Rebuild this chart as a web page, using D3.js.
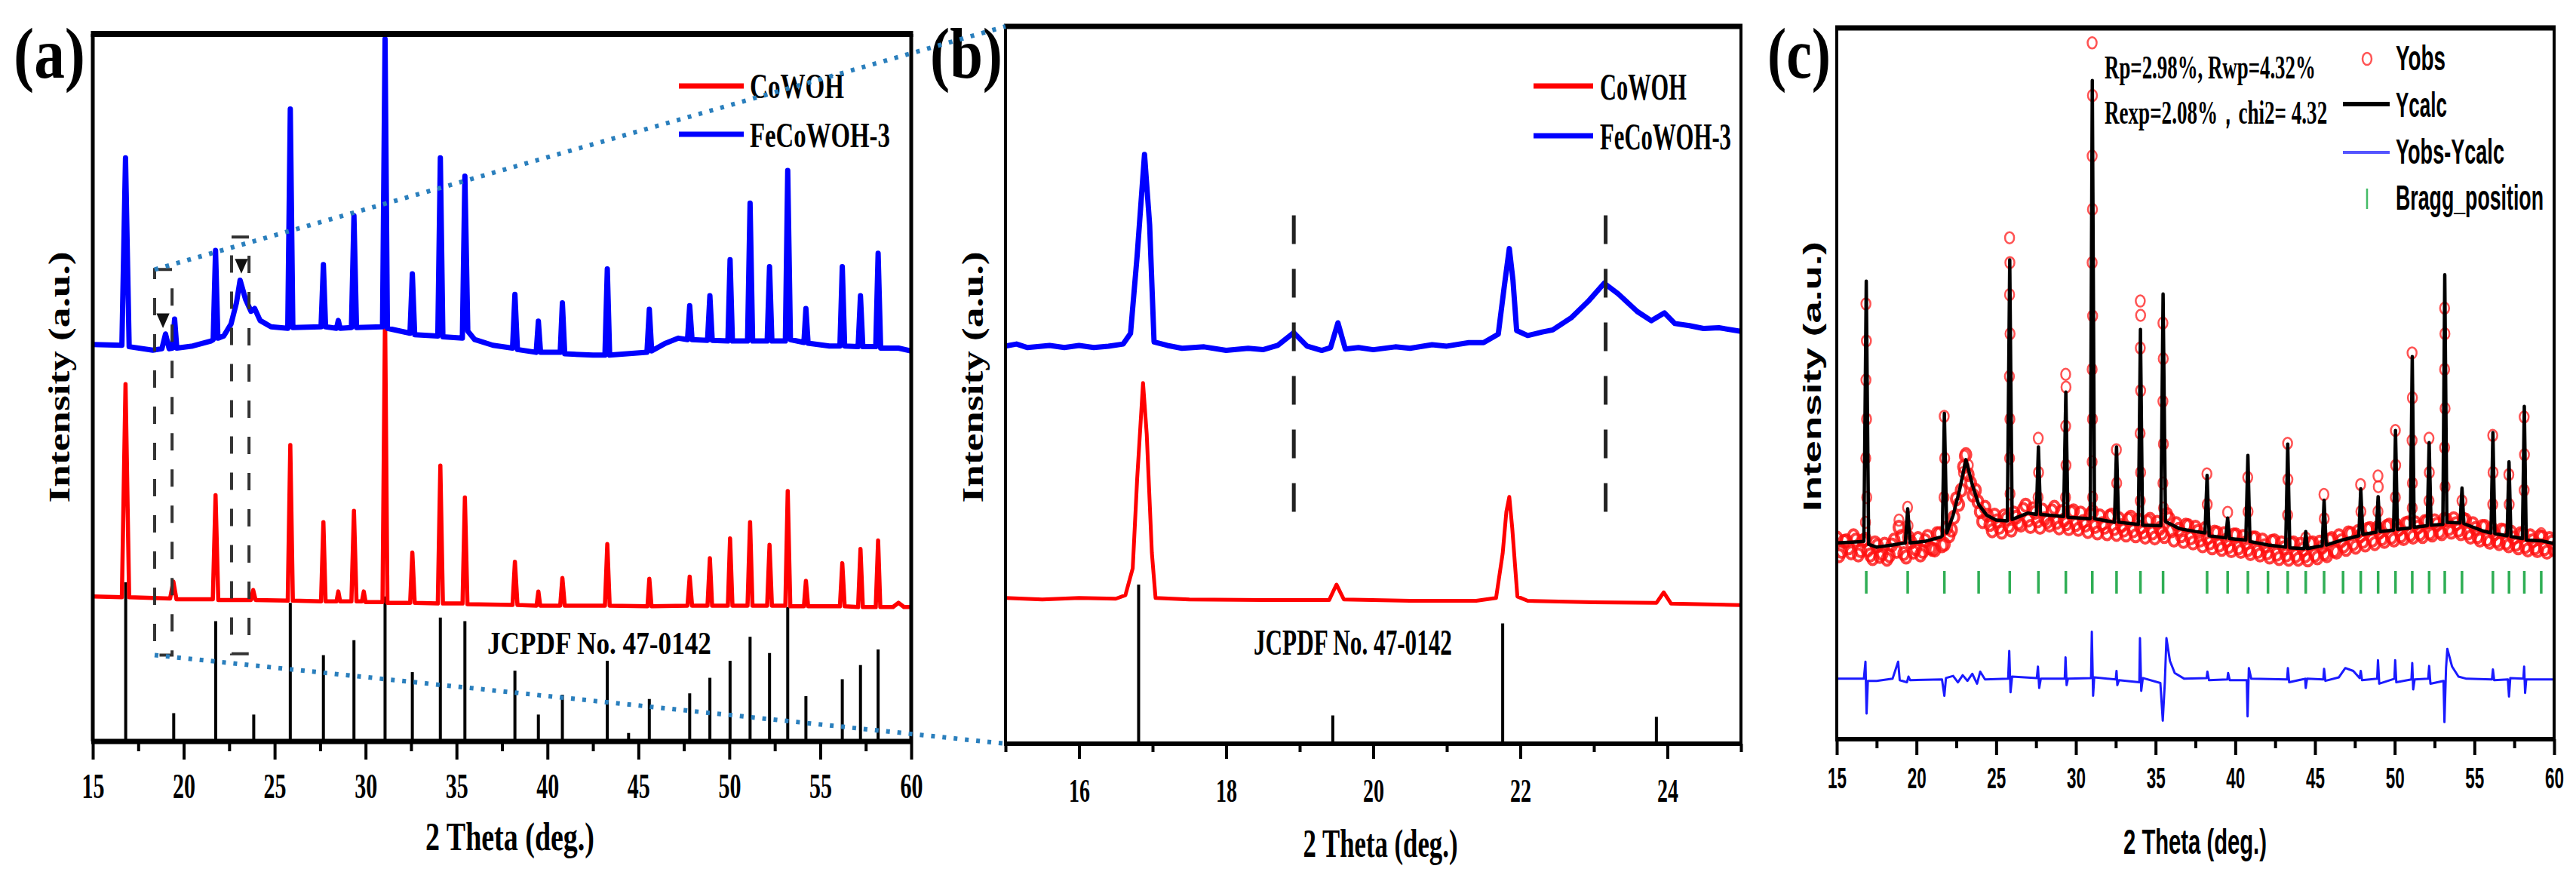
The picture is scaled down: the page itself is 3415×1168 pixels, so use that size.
<!DOCTYPE html>
<html>
<head>
<meta charset="utf-8">
<script src="https://cdn.jsdelivr.net/npm/d3@7"></script>
<style>
  body { margin: 0; background: #fff; }
  svg { display: block; }
</style>
</head>
<body>
<svg id="fig" width="3415" height="1168"></svg>
<script>
// ---- data (2 theta in deg, intensity in a.u.) ----

// JCPDF No. 47-0142 reference lines [2theta, height]
const jcpdf = [[16.81,22.5],[19.45,4.0],[21.76,17.0],[23.85,3.8],[25.86,19.6],[27.68,12.2],[29.36,14.3],
  [31.07,20.5],[32.57,9.8],[34.11,17.5],[35.46,17.0],[38.21,10.0],[39.5,3.8],[40.82,6.6],[43.29,11.4],
  [44.46,1.2],[45.6,6.0],[47.82,6.8],[48.93,9.0],[50.04,11.4],[51.14,14.8],[52.21,12.5],[53.21,19.0],
  [54.21,6.4],[56.21,8.8],[57.21,10.8],[58.18,13.0]];

// panel (a) CoWOH
const coWOH = [[15,20.5],[16.6,20.4],[16.8,50.5],[17.0,20.4],[19.25,20.2],[19.43,22.6],[19.6,20.1],[21.6,20.1],
  [21.75,34.8],[21.9,20.0],[23.7,20.0],[23.82,21.4],[23.95,20.0],[25.72,19.9],[25.86,41.9],[26.0,19.9],
  [27.55,19.8],[27.68,31.0],[27.8,19.8],[28.4,19.8],[28.5,21.2],[28.6,19.8],[29.22,19.8],[29.36,32.6],
  [29.5,19.8],[29.8,19.8],[29.9,21.2],[30.0,19.7],[30.93,19.7],[31.07,60.8],[31.2,19.6],[32.45,19.6],
  [32.57,26.7],[32.7,19.6],[33.97,19.5],[34.11,39.0],[34.25,19.5],[35.33,19.5],[35.46,34.5],[35.6,19.4],
  [38.08,19.3],[38.21,25.4],[38.35,19.3],[39.4,19.2],[39.5,21.2],[39.6,19.2],[40.7,19.2],[40.82,23.1],
  [40.95,19.2],[43.16,19.2],[43.29,27.9],[43.42,19.2],[45.5,19.1],[45.6,23.0],[45.72,19.1],[47.7,19.2],
  [47.82,23.3],[47.95,19.2],[48.8,19.2],[48.93,25.9],[49.05,19.2],[49.92,19.2],[50.04,28.7],[50.17,19.2],
  [51.0,19.2],[51.14,31.0],[51.27,19.2],[52.08,19.2],[52.21,27.8],[52.34,19.2],[53.08,19.2],[53.21,35.4],
  [53.35,19.1],[54.1,19.1],[54.21,22.7],[54.33,19.1],[56.08,19.1],[56.21,25.2],[56.34,19.1],[57.08,19.0],
  [57.21,27.2],[57.34,19.0],[58.05,19.0],[58.18,28.4],[58.3,19.0],[59.0,19.0],[59.3,19.6],[59.6,19.0],[60,19.0]];

// panel (a) FeCoWOH-3
const feCoWOH = [[15,56.1],[16.6,56.0],[16.8,82.5],[17.0,55.8],[18.3,55.3],[18.8,55.5],[19.0,57.6],[19.2,55.5],
  [19.38,55.6],[19.5,59.7],[19.62,55.6],[20.5,55.9],[21.5,56.6],[21.62,56.8],[21.75,69.4],[21.88,57.0],
  [22.2,57.3],[22.6,59.0],[22.9,62.0],[23.1,65.2],[23.4,62.5],[23.7,60.8],[23.9,61.2],[24.2,59.5],[24.8,58.6],
  [25.72,58.4],[25.86,89.4],[26.0,58.5],[27.55,58.6],[27.68,67.4],[27.8,58.6],[28.4,58.4],[28.5,59.5],
  [28.6,58.4],[29.22,58.5],[29.36,74.3],[29.5,58.5],[30.93,58.6],[31.07,99.3],[31.2,58.4],[32.44,57.7],
  [32.57,66.1],[32.7,57.5],[33.97,57.3],[34.11,82.5],[34.25,57.2],[35.32,57.0],[35.46,79.9],[35.62,58.0],
  [36.0,56.8],[37.0,56.0],[38.08,55.6],[38.21,63.2],[38.35,55.4],[39.38,55.0],[39.5,59.4],[39.62,55.0],
  [40.7,55.0],[40.82,62.0],[40.95,54.8],[42.5,54.6],[43.16,54.6],[43.29,66.8],[43.42,54.6],[45.47,55.0],
  [45.6,61.1],[45.73,55.2],[46.5,56.3],[47.2,57.0],[47.7,56.8],[47.82,61.6],[47.95,56.8],[48.8,56.7],
  [48.93,63.0],[49.06,56.7],[49.92,56.6],[50.04,68.1],[50.17,56.6],[51.0,56.6],[51.14,76.1],[51.28,56.6],
  [52.08,56.6],[52.21,67.1],[52.34,56.6],[53.08,56.6],[53.21,80.7],[53.36,56.8],[54.1,56.4],[54.21,61.2],
  [54.33,56.3],[55.5,55.9],[56.08,55.9],[56.21,67.1],[56.34,55.9],[57.08,55.8],[57.21,63.0],[57.34,55.8],
  [58.05,55.8],[58.18,69.0],[58.32,55.6],[59.3,55.6],[60,55.2]];

// panel (b) zoom 15-25
const coWOHZoom = [[15,20.6],[15.5,20.4],[16.0,20.6],[16.5,20.5],[16.63,21.0],[16.73,24.8],[16.79,37.4],
  [16.87,51.0],[16.92,43.8],[16.99,27.0],[17.04,20.6],[17.5,20.4],[18.5,20.3],[19.4,20.3],[19.5,22.5],
  [19.6,20.4],[20.5,20.2],[21.4,20.2],[21.67,20.6],[21.76,26.9],[21.81,32.8],[21.85,34.9],[21.89,30.5],
  [21.96,20.8],[22.1,20.2],[23.0,20.0],[23.85,19.9],[23.95,21.4],[24.05,19.8],[25,19.6]];
const feCoWOHZoom = [[15,56.2],[15.15,56.5],[15.3,56.0],[15.6,56.3],[15.8,56.0],[16.0,56.3],[16.2,56.0],
  [16.4,56.2],[16.6,56.5],[16.7,58.0],
  [16.79,69.0],[16.89,83.3],[16.96,73.3],[17.02,56.8],[17.2,56.3],[17.4,55.9],[17.7,56.1],[18.0,55.6],
  [18.3,55.9],[18.5,55.7],[18.7,56.3],
  [18.92,58.1],[19.1,56.2],[19.3,55.6],[19.42,56.0],[19.52,59.5],[19.62,55.8],[19.8,56.0],[20.0,55.7],
  [20.3,56.1],[20.5,55.9],[20.8,56.4],[21.0,56.2],[21.3,56.7],[21.5,56.7],[21.7,57.9],[21.78,64.5],[21.85,70.0],
  [21.9,65.5],[21.95,58.4],[22.1,57.7],[22.3,58.2],
  [22.44,58.5],[22.69,60.2],[22.92,62.5],[23.14,65.1],[23.33,63.6],[23.59,61.1],[23.78,59.8],[23.96,60.9],
  [24.1,59.4],[24.3,59.1],[24.49,58.7],[24.7,58.8],[25.0,58.3]];
const zoomMarks = [18.92, 23.16];

// panel (c) Rietveld refinement
const yCalc = [[15,27.6],[16.0,27.7],[16.7,27.8],[16.85,64.4],[17.0,27.4],[17.5,27.0],[18.5,27.3],[19.3,27.6],
  [19.45,32.4],[19.6,27.6],[20.5,27.8],[21.5,28.4],[21.62,28.6],[21.75,45.8],[21.9,29.0],[22.3,31.5],
  [22.7,35.0],[23.1,39.3],[23.5,35.8],[23.9,33.0],[24.4,31.5],[25.0,30.8],[25.7,30.7],[25.85,67.4],
  [26.0,30.9],[27.0,31.8],[27.52,31.6],[27.65,41.1],[27.78,31.6],[29.23,31.3],[29.37,48.8],[29.5,31.2],
  [30.9,31.0],[31.03,92.6],[31.17,31.0],[32.42,30.5],[32.55,41.1],[32.68,30.5],[33.92,30.2],[34.05,57.6],
  [34.18,30.1],[35.33,30.0],[35.47,62.6],[35.62,30.6],[36.5,29.6],[37.5,29.2],[38.1,29.0],[38.23,37.1],
  [38.36,28.6],[39.4,28.3],[39.52,31.1],[39.64,28.2],[40.66,28.0],[40.79,39.9],[40.92,27.8],[42.05,27.3],
  [43.16,27.0],[43.29,41.5],[43.42,26.9],[44.32,26.8],[44.42,29.2],[44.52,26.8],[45.45,27.2],[45.57,33.6],
  [45.7,27.3],[46.7,28.0],[47.75,28.6],[47.87,35.2],[48.0,28.8],[48.84,29.1],[48.96,34.1],[49.08,29.2],
  [49.93,29.4],[50.05,43.4],[50.17,29.5],[50.98,29.7],[51.1,53.8],[51.22,29.8],[52.04,30.0],[52.16,41.7],
  [52.28,30.1],[53.02,30.2],[53.14,65.3],[53.27,30.5],[54.1,30.4],[54.22,35.3],[54.34,30.3],[55.5,29.3],
  [56.04,29.0],[56.16,43.1],[56.28,28.9],[57.05,28.6],[57.17,39.0],[57.29,28.5],[58.01,28.2],[58.13,46.8],
  [58.25,28.0],[59.19,27.9],[60,27.5]];

// observed scan, background part: two interleaved passes read at 0.3 deg steps
const obsScanStart = 15, obsScanStep = 0.3, obsScan2Start = 15.15;
const obsScan = [28.3,26.4,27.9,26.2,28.0,26.5,28.1,25.9,27.6,25.7,
  27.4,25.8,28.0,29.8,26.1,28.4,26.3,28.2,26.4,28.5,
  26.7,28.9,27.2,29.7,29.4,33.8,35.0,40.0,36.0,35.0,
  32.0,32.6,30.2,31.5,29.8,31.4,30.0,31.8,30.4,32.3,
  30.8,32.4,30.7,32.2,30.6,32.1,30.5,32.0,30.3,31.9,
  30.2,31.8,30.1,31.6,29.9,31.4,29.8,31.3,29.6,31.0,
  29.4,30.9,29.3,30.8,29.1,30.6,29.0,30.5,29.0,31.6,
  29.3,30.3,28.6,30.1,28.3,29.8,28.0,29.6,27.6,29.1,
  27.3,28.9,27.1,28.7,26.9,28.5,26.7,28.3,26.4,28.0,
  26.2,27.8,26.0,27.6,25.9,27.5,25.8,27.4,25.8,27.5,
  25.9,27.7,26.1,28.0,26.5,28.6,27.2,29.0,27.5,29.2,
  27.8,29.5,28.0,29.7,28.2,29.9,28.4,30.1,28.6,30.3,
  28.8,30.4,28.9,30.6,29.0,30.7,29.2,30.9,29.6,31.0,
  29.4,30.9,29.0,30.3,28.5,29.9,28.1,29.6,27.9,29.4,
  27.6,29.1,27.4,28.9,27.1,28.6,26.9,28.5,26.8,28.2,
  26.6];
const obsScan2 = [25.8,27.8,26.9,28.6,25.9,27.9,26.6,25.4,27.2,26.1,
  25.3,27.3,26.4,28.5,25.6,27.7,26.8,25.9,27.9,26.9,
  26.6,28.9,27.4,28.6,31.2,33.0,38.3,37.2,34.3,33.4,
  30.6,31.5,29.3,30.7,29.1,31.0,29.4,31.2,30.1,32.9,
  29.9,31.9,29.8,31.0,30.1,32.6,29.7,30.8,29.6,32.1,
  29.5,30.6,29.2,32.0,29.0,30.3,28.9,31.5,28.8,30.0,
  28.7,31.2,28.6,29.8,28.4,30.9,28.3,29.6,28.5,31.0,
  28.0,29.5,27.8,30.0,27.6,29.2,27.2,28.3,26.9,29.0,
  26.7,28.0,26.5,28.7,26.4,27.6,26.1,28.3,25.9,27.2,
  25.6,27.9,25.4,26.9,25.3,27.6,25.3,26.7,25.2,27.6,
  25.5,27.0,25.8,28.2,26.3,27.9,26.7,28.9,27.0,28.6,
  27.3,29.6,27.5,29.1,27.8,30.1,28.0,29.5,28.2,30.4,
  28.4,29.8,28.5,30.6,28.7,30.2,28.9,30.8,29.1,30.3,
  28.9,30.8,28.4,29.6,28.0,29.9,27.7,28.9,27.5,29.3,
  27.2,28.3,26.9,28.8,26.6,27.9,26.5,28.4,26.3,27.7];

// observed points on the reflections
const obsPeaks = [[16.83,61.2],[16.86,56.0],[16.83,50.5],[16.87,45.0],[16.82,39.5],[16.88,34.0],[16.8,30.5],
  [18.9,30.8],[19.44,32.6],[19.47,30.0],[21.74,45.4],[21.77,39.5],[21.73,34.0],
  [22.95,37.5],[23.25,38.5],[23.0,39.8],
  [25.84,70.5],[25.86,67.0],[25.84,62.5],[25.87,57.0],[25.83,51.0],[25.86,45.0],[25.84,39.5],[25.87,34.5],
  [27.64,42.3],[27.66,37.5],[27.63,34.0],
  [29.36,51.3],[29.38,49.5],[29.36,44.0],[29.38,38.5],[29.35,34.0],
  [31.02,97.9],[31.04,90.5],[31.02,82.0],[31.04,74.5],[31.02,67.0],[31.05,59.5],[31.02,52.0],[31.04,45.0],
  [31.02,39.0],[31.05,34.0],
  [32.54,40.7],[32.56,36.0],
  [34.04,61.6],[34.06,59.6],[34.04,55.0],[34.06,49.0],[34.03,43.0],[34.06,37.5],[34.04,33.5],
  [35.46,58.5],[35.48,53.5],[35.46,47.5],[35.49,41.5],[35.46,36.0],[35.5,32.5],
  [38.22,37.3],[38.24,33.0],[39.52,31.9],[40.78,36.8],[40.8,32.0],
  [43.28,41.6],[43.3,36.5],[43.28,31.5],[44.42,28.3],[45.56,34.4],[45.58,31.0],
  [47.86,35.8],[47.88,32.0],[48.95,37.0],[48.97,35.5],[48.95,32.0],
  [50.04,43.4],[50.06,38.5],[50.04,34.0],
  [51.09,54.3],[51.11,48.0],[51.09,42.0],[51.11,36.0],[51.1,32.5],
  [52.15,42.3],[52.17,37.5],[52.15,33.5],
  [53.13,60.6],[53.15,57.0],[53.13,52.0],[53.16,46.5],[53.13,41.0],[53.16,35.5],
  [54.22,33.5],[56.15,42.7],[56.17,37.5],[56.15,33.0],[57.16,37.2],[57.18,33.0],
  [58.12,45.3],[58.14,40.0],[58.12,35.0],[59.19,28.9]];

// Yobs - Ycalc (drawn with its own offset, as in the figure)
const yDiff = [[15,8.5],[16.7,8.5],[16.8,10.9],[16.87,3.6],[16.95,8.2],[17.5,8.2],[18.5,8.5],[18.85,10.9],
  [18.95,8.3],[19.4,8.0],[19.5,8.8],[19.6,8.3],[21.6,8.4],[21.75,6.1],[21.85,8.6],[22.3,8.9],[22.6,8.0],
  [22.9,9.0],[23.2,8.2],[23.5,9.2],[23.8,7.8],[24.0,9.5],[24.3,8.4],[25.75,8.5],[25.82,12.4],[25.9,6.6],
  [26.0,8.8],[27.55,8.6],[27.62,10.2],[27.7,7.2],[27.8,8.5],[29.3,8.5],[29.35,11.5],[29.42,7.6],[29.5,8.5],
  [30.95,8.6],[31.0,15.1],[31.08,6.1],[31.15,8.7],[32.5,8.4],[32.55,9.6],[32.6,7.6],[32.7,8.3],[33.98,8.0],
  [34.02,14.2],[34.1,6.8],[34.2,8.6],[35.3,7.9],[35.45,2.6],[35.58,8.0],[35.68,14.2],[35.9,11.0],[36.2,9.3],
  [36.8,8.5],[38.2,8.6],[38.25,9.5],[38.35,8.3],[39.5,8.4],[39.55,9.3],[39.65,8.3],[40.72,8.3],[40.77,3.2],
  [40.85,10.0],[41.0,8.5],[43.25,8.4],[43.3,10.0],[43.38,8.0],[44.38,8.5],[44.42,7.2],[44.5,8.5],
  [45.52,8.4],[45.57,9.9],[45.65,8.2],[46.5,8.7],[46.9,10.0],[47.4,9.6],[47.8,8.6],[47.87,9.6],[47.95,8.3],
  [48.9,8.5],[48.95,11.1],[49.03,7.8],[49.98,8.5],[50.03,11.1],[50.1,8.0],[51.05,8.4],[51.1,10.7],
  [51.16,7.0],[51.25,8.4],[52.1,8.5],[52.16,10.3],[52.24,7.8],[53.06,8.2],[53.12,2.4],[53.22,10.0],
  [53.3,12.7],[53.6,10.2],[54.0,8.8],[54.5,8.5],[56.1,8.4],[56.16,9.8],[56.24,8.3],[57.1,8.4],[57.17,6.0],
  [57.25,8.6],[58.07,8.5],[58.12,10.2],[58.18,6.5],[58.25,8.4],[60,8.4]];

const braggPos = [16.85,19.45,21.75,23.9,25.85,27.65,29.37,31.03,32.55,34.05,35.47,38.23,39.52,40.79,42.05,
  43.29,44.42,45.57,46.76,47.87,48.96,50.05,51.1,52.16,53.14,54.22,56.16,57.17,58.13,59.19];

const ticksWide = [15,20,25,30,35,40,45,50,55,60];
const minorWide = [17.5,22.5,27.5,32.5,37.5,42.5,47.5,52.5,57.5];
const ticksZoom = [16,18,20,22,24];
const minorZoom = [15,17,19,21,23,25];

// zoom boxes drawn on (a): [x0, x1, yBottom, yTop]
const zoomBoxes = [[18.4, 19.36, 12.2, 66.7], [22.63, 23.59, 12.4, 71.3]];
const boxArrows = [[18.86, 59.8], [23.17, 67.5]];

// ---- layout ----
const SERIF = "'Liberation Serif','Times New Roman',serif";
const SANS = "'Liberation Sans',Arial,sans-serif";
const RED = "#ff0000", BLUE = "#0000ff";

const svg = d3.select("#fig");
svg.append("rect").attr("width", 3415).attr("height", 1168).attr("fill", "#fff");

const boxA = {left: 123, right: 1208, top: 45, bottom: 983};
const boxB = {left: 1333, right: 2308, top: 35, bottom: 986};
const boxC = {left: 2435, right: 3386, top: 37, bottom: 980};

const xA = d3.scaleLinear().domain([15, 60]).range([boxA.left, boxA.right]);
const yA = d3.scaleLinear().domain([0, 100]).range([boxA.bottom, boxA.top]);
const xB = d3.scaleLinear().domain([15, 25]).range([boxB.left, boxB.right]);
const yB = d3.scaleLinear().domain([0, 101.4]).range([boxB.bottom, boxB.top]);
const xC = d3.scaleLinear().domain([15, 60]).range([boxC.left, boxC.right]);
const yC = d3.scaleLinear().domain([0, 100]).range([boxC.bottom, boxC.top]);

// the printed figure is squeezed horizontally, so text is narrowed to the measured width
function label(g, str, x, y, o) {
  const t = g.append("text")
    .attr("font-family", o.font || SERIF).attr("font-weight", "bold")
    .attr("font-size", o.size).attr("text-anchor", o.anchor || "start")
    .attr("fill", "#000").text(str);
  const sx = o.w ? o.w / t.node().getComputedTextLength() : 1;
  t.attr("transform", `translate(${x},${y}) scale(${sx},1)`);
  return t;
}

function yTitle(g, str, x, y, o) {
  const t = g.append("text")
    .attr("font-family", o.font).attr("font-weight", "bold").attr("font-size", o.size)
    .attr("text-anchor", "middle").text(str);
  const sl = o.len / t.node().getComputedTextLength();
  t.attr("transform", `translate(${x},${y}) rotate(-90) scale(${sl},${o.k})`);
}

function clip(id, b) {
  svg.append("clipPath").attr("id", id).append("rect")
    .attr("x", b.left).attr("y", b.top).attr("width", b.right - b.left).attr("height", b.bottom - b.top);
}

function frame(g, b, topW, sideW) {
  g.append("line").attr("x1", b.left - sideW / 2).attr("x2", b.right + sideW / 2)
    .attr("y1", b.top).attr("y2", b.top).attr("stroke", "#000").attr("stroke-width", topW);
  [b.left, b.right].forEach(px => g.append("line").attr("x1", px).attr("x2", px)
    .attr("y1", b.top).attr("y2", b.bottom).attr("stroke", "#000").attr("stroke-width", sideW));
}

function xAxis(g, x, b, majors, minors, o) {
  const ax = g.append("g").attr("transform", `translate(0,${b.bottom})`)
    .call(d3.axisBottom(x).tickValues(majors).tickSize(o.major).tickSizeOuter(0).tickFormat(d3.format("d")));
  ax.select(".domain").attr("stroke-width", o.lw).attr("d", `M${b.left - 2},0H${b.right + 2}`);
  ax.selectAll(".tick line").attr("stroke-width", 4);
  ax.selectAll(".tick text").attr("y", o.labelY).attr("dy", 0)
    .attr("font-family", o.font).attr("font-weight", "bold").attr("font-size", o.size)
    .attr("fill", "#000")
    .each(function () {
      const sx = o.w / this.getComputedTextLength();
      d3.select(this).attr("transform", `scale(${sx},1)`);
    });
  const mn = g.append("g").attr("transform", `translate(0,${b.bottom})`)
    .call(d3.axisBottom(x).tickValues(minors).tickSize(o.minor).tickFormat(""));
  mn.select(".domain").remove();
  mn.selectAll(".tick line").attr("stroke-width", 4);
}

function curve(g, data, x, y, color, w) {
  g.append("path").datum(data).attr("fill", "none").attr("stroke", color).attr("stroke-width", w)
    .attr("stroke-linejoin", "round")
    .attr("d", d3.line().x(d => x(d[0])).y(d => y(d[1])));
}

function sticks(g, data, x, y) {
  g.selectAll(null).data(data).join("line")
    .attr("x1", d => x(d[0])).attr("x2", d => x(d[0]))
    .attr("y1", y(0)).attr("y2", d => y(d[1]))
    .attr("stroke", "#000").attr("stroke-width", 4);
}

function legendLines(g, items, x0, x1, tx, o) {
  items.forEach(it => {
    g.append("line").attr("x1", x0).attr("x2", x1).attr("y1", it.y).attr("y2", it.y)
      .attr("stroke", it.color).attr("stroke-width", 7);
    label(g, it.name, tx, it.base, {size: o.size, w: it.w});
  });
}

clip("clipA", boxA); clip("clipB", boxB); clip("clipC", boxC);

// ---- panel (a) ----
const gA = svg.append("g");
const pA = gA.append("g").attr("clip-path", "url(#clipA)");
sticks(pA, jcpdf, xA, yA);
curve(pA, coWOH, xA, yA, RED, 5.5);
curve(pA, feCoWOH, xA, yA, BLUE, 7);
zoomBoxes.forEach(d => pA.append("rect")
  .attr("x", xA(d[0])).attr("y", yA(d[3])).attr("width", xA(d[1]) - xA(d[0])).attr("height", yA(d[2]) - yA(d[3]))
  .attr("fill", "none").attr("stroke", "#333").attr("stroke-width", 4).attr("stroke-dasharray", "23 25"));
pA.selectAll(null).data(boxArrows).join("path")
  .attr("d", d3.symbol().type(d3.symbolTriangle).size(130))
  .attr("transform", d => `translate(${xA(d[0])},${yA(d[1])}) rotate(180) scale(1,1.3)`)
  .attr("fill", "#111");
frame(gA, boxA, 8, 5);
xAxis(gA, xA, boxA, ticksWide, minorWide, {major: 24, minor: 13, lw: 7, labelY: 75, font: SERIF, size: 47, w: 30});
legendLines(gA, [
  {name: "CoWOH", color: RED, y: 114, base: 130, w: 125},
  {name: "FeCoWOH-3", color: BLUE, y: 178, base: 195, w: 186}], 900, 986, 994, {size: 46});
label(gA, "JCPDF No. 47-0142", 646, 867, {size: 42, w: 297});
label(gA, "2 Theta (deg.)", 676, 1127, {size: 52, anchor: "middle", w: 224});
yTitle(gA, "Intensity (a.u.)", 92, 500, {font: SERIF, size: 50, k: 0.8, len: 333});
label(gA, "(a)", 18, 103, {size: 95, w: 95});

// ---- panel (b) ----
const gB = svg.append("g");
const pB = gB.append("g").attr("clip-path", "url(#clipB)");
sticks(pB, jcpdf.filter(d => d[0] >= 15 && d[0] <= 25), xB, yB);
curve(pB, coWOHZoom, xB, yB, RED, 5);
curve(pB, feCoWOHZoom, xB, yB, BLUE, 7);
pB.selectAll(null).data(zoomMarks).join("line")
  .attr("x1", d => xB(d)).attr("x2", d => xB(d)).attr("y1", yB(74.7)).attr("y2", yB(32.4))
  .attr("stroke", "#222").attr("stroke-width", 5).attr("stroke-dasharray", "38 33");
frame(gB, boxB, 7, 4);
xAxis(gB, xB, boxB, ticksZoom, minorZoom, {major: 20, minor: 11, lw: 6, labelY: 77, font: SERIF, size: 45, w: 28});
legendLines(gB, [
  {name: "CoWOH", color: RED, y: 114, base: 132, w: 115},
  {name: "FeCoWOH-3", color: BLUE, y: 180, base: 198, w: 174}], 2033, 2112, 2121, {size: 50});
label(gB, "JCPDF No. 47-0142", 1662, 868, {size: 48, w: 263});
label(gB, "2 Theta (deg.)", 1830, 1136, {size: 52, anchor: "middle", w: 205});
yTitle(gB, "Intensity (a.u.)", 1303, 500, {font: SERIF, size: 50, k: 0.8, len: 333});
label(gB, "(b)", 1233, 103, {size: 95, w: 96});

// ---- panel (c) ----
const gC = svg.append("g");
const pC = gC.append("g").attr("clip-path", "url(#clipC)");
const obsBand = obsScan.map((v, i) => [obsScanStart + i * obsScanStep, v])
  .concat(obsScan2.map((v, i) => [obsScan2Start + i * obsScanStep, v]));
pC.selectAll(null).data(obsBand).join("ellipse")
  .attr("cx", d => xC(d[0])).attr("cy", d => yC(d[1])).attr("rx", 6.5).attr("ry", 8)
  .attr("fill", "none").attr("stroke", "#ff1010").attr("stroke-opacity", 0.8).attr("stroke-width", 4);
pC.selectAll(null).data(obsPeaks).join("ellipse")
  .attr("cx", d => xC(d[0])).attr("cy", d => yC(d[1])).attr("rx", 6).attr("ry", 7.5)
  .attr("fill", "none").attr("stroke", "#ff1a1a").attr("stroke-opacity", 0.75).attr("stroke-width", 2.5);
curve(pC, yCalc, xC, yC, "#000", 4.5);
curve(pC, yDiff, xC, yC, "#1a1aff", 3);
pC.selectAll(null).data(braggPos).join("line")
  .attr("x1", d => xC(d)).attr("x2", d => xC(d)).attr("y1", 757).attr("y2", 787)
  .attr("stroke", "#2fae55").attr("stroke-width", 3.5);
frame(gC, boxC, 7, 4);
xAxis(gC, xC, boxC, ticksWide, minorWide, {major: 21, minor: 12, lw: 6, labelY: 65, font: SANS, size: 38, w: 25});
label(gC, "Rp=2.98%, Rwp=4.32%", 2790, 104, {size: 44, w: 280});
label(gC, "Rexp=2.08%，chi2= 4.32", 2790, 164, {size: 44, w: 295});
// legend (c)
gC.append("ellipse").attr("cx", 3138).attr("cy", 78).attr("rx", 6).attr("ry", 8)
  .attr("fill", "none").attr("stroke", "#ff5555").attr("stroke-width", 2.5);
gC.append("line").attr("x1", 3106).attr("x2", 3168).attr("y1", 138).attr("y2", 138)
  .attr("stroke", "#000").attr("stroke-width", 6);
gC.append("line").attr("x1", 3106).attr("x2", 3168).attr("y1", 202).attr("y2", 202)
  .attr("stroke", "#5555ff").attr("stroke-width", 4);
gC.append("line").attr("x1", 3138).attr("x2", 3138).attr("y1", 250).attr("y2", 277)
  .attr("stroke", "#44bb66").attr("stroke-width", 2.5);
[["Yobs", 93, 66], ["Ycalc", 155, 68], ["Yobs-Ycalc", 217, 144], ["Bragg_position", 278, 196]]
  .forEach(([s, yb, w]) => label(gC, s, 3176, yb, {font: SANS, size: 46, w}));
label(gC, "2 Theta (deg.)", 2910, 1132, {font: SANS, size: 46, anchor: "middle", w: 190});
yTitle(gC, "Intensity (a.u.)", 2414, 499, {font: SANS, size: 53, k: 0.63, len: 358});
label(gC, "(c)", 2343, 103, {size: 95, w: 84});

// ---- dotted connectors from the zoom box in (a) to panel (b) ----
const zb = zoomBoxes[0];
const conn = [
  [[xA(zb[0]), yA(zb[3])], [boxB.left, boxB.top]],
  [[xA(zb[0]), yA(zb[2])], [boxB.left, boxB.bottom]]];
svg.selectAll(null).data(conn).join("line")
  .attr("x1", d => d[0][0]).attr("y1", d => d[0][1]).attr("x2", d => d[1][0]).attr("y2", d => d[1][1])
  .attr("stroke", "#2a7fbd").attr("stroke-width", 6).attr("stroke-dasharray", "5 10");
</script>
</body>
</html>
